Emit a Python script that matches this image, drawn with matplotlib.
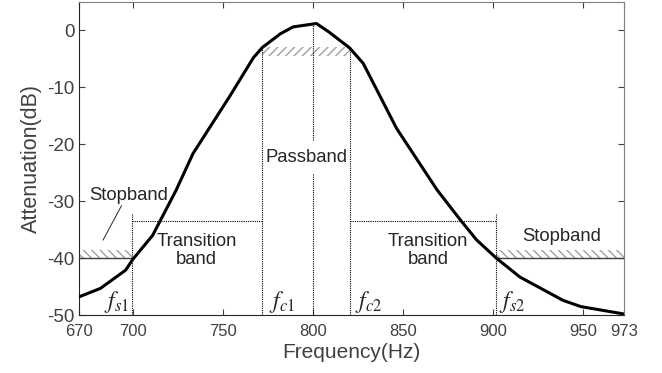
import numpy as np
import matplotlib
matplotlib.use("Agg")
import matplotlib.pyplot as plt

# ── data ────────────────────────────────────────────────────
freq = [670, 682, 696, 700, 711, 724, 733.5, 754, 767, 772, 782, 789,
        802, 809, 820.5, 828, 846.5, 869, 882, 891, 902, 915, 939, 949, 973]
atten = [-46.8, -45.3, -42.1, -40.2, -36.0, -28.1, -21.6, -11.5, -4.8, -3.0,
         -0.6, 0.6, 1.2, -0.3, -3.1, -5.8, -17.2, -28.0, -33.3, -36.8,
         -40.0, -43.3, -47.4, -48.5, -49.8]

xticks = [670, 700, 750, 800, 850, 900, 950, 973]
yticks = [0, -10, -20, -30, -40, -50]

fs1, fc1, f0, fc2, fs2 = 699.5, 772, 800.2, 820.5, 901.7
stop_level = -40
stop_top = -38.6
pass_top, pass_bot = -3.0, -4.5
trans_level = -33.5
trans_vtop = -32.2

plt.rcParams['font.family'] = ['Liberation Sans', 'DejaVu Sans']
plt.rcParams['mathtext.fontset'] = 'stix'
plt.rcParams['axes.unicode_minus'] = False
plt.rcParams['hatch.linewidth'] = 1.0
plt.rcParams['hatch.color'] = '#a0a0a0'

fig = plt.figure(figsize=(6.62, 3.73), dpi=100)
ax = fig.add_axes([0.119, 0.155, 0.824, 0.840])

txt = '#262626'
tick_c = '#404040'

# hatched bands
ax.fill_between([670, fs1], stop_level, stop_top, facecolor='none',
                edgecolor='#a0a0a0', hatch='\\\\\\\\', linewidth=0)
ax.fill_between([fs2, 973], stop_level, stop_top, facecolor='none',
                edgecolor='#a0a0a0', hatch='\\\\\\\\', linewidth=0)
ax.fill_between([fc1, fc2], pass_bot, pass_top, facecolor='none',
                edgecolor='#a0a0a0', hatch='////', linewidth=0)
ax.hlines(stop_level, 670, fs1, color='#404040', lw=1)
ax.hlines(stop_level, fs2, 973, color='#404040', lw=1)

# dotted guides
dot = dict(color='black', lw=0.8, linestyle=(0, (1, 1)))
ax.vlines(fs1, -50, trans_vtop, **dot)
ax.vlines(fs2, -50, trans_vtop, **dot)
ax.vlines(fc1, -50, pass_top, **dot)
ax.vlines(fc2, -50, pass_top, **dot)
ax.vlines(f0, -50, -25.0, **dot)
ax.vlines(f0, -19.3, 1.1, **dot)
ax.hlines(trans_level, fs1, fc1, **dot)
ax.hlines(trans_level, fc2, fs2, **dot)

# response curve
ax.plot(freq, atten, color='black', lw=2.2, zorder=5)

# annotations
fsz = 13.3
ax.text(796.5, -22.3, 'Passband', ha='center', va='center', fontsize=fsz, color=txt)
ax.text(697.5, -29.0, 'Stopband', ha='center', va='center', fontsize=fsz, color=txt)
ax.plot([693.7, 683.5], [-30.8, -36.8], color=txt, lw=0.7)
ax.text(938, -36.1, 'Stopband', ha='center', va='center', fontsize=fsz, color=txt)
ax.text(735.5, -38.6, 'Transition\nband', ha='center', va='center',
        fontsize=fsz, color=txt, linespacing=1.05)
ax.text(864, -38.6, 'Transition\nband', ha='center', va='center',
        fontsize=fsz, color=txt, linespacing=1.05)

fl = 17
ax.text(691, -47.6, r'$f_{s1}$', ha='center', va='center', fontsize=fl, color=txt)
ax.text(783, -47.6, r'$f_{c1}$', ha='center', va='center', fontsize=fl, color=txt)
ax.text(831, -47.6, r'$f_{c2}$', ha='center', va='center', fontsize=fl, color=txt)
ax.text(911, -47.6, r'$f_{s2}$', ha='center', va='center', fontsize=fl, color=txt)

ax.set_xlim(670, 973)
ax.set_ylim(-50, 5)
ax.set_xticks(xticks)
ax.set_yticks(yticks)
ax.tick_params(direction='in', top=True, right=True, length=4,
               color='#404040', labelcolor=tick_c)
ax.tick_params(axis='x', labelsize=12, pad=6)
ax.tick_params(axis='y', labelsize=13.5, pad=3)
for s in ax.spines.values():
    s.set_color('#7f7f7f')
    s.set_linewidth(0.8)
ax.spines['left'].set_color('#262626')
ax.spines['bottom'].set_color('#262626')

ax.set_xlabel('Frequency(Hz)', fontsize=15, color=tick_c, labelpad=3)
ax.set_ylabel('Attenuation(dB)', fontsize=15.5, color=tick_c, labelpad=4)

fig.savefig('out.png', dpi=100, facecolor='white')
